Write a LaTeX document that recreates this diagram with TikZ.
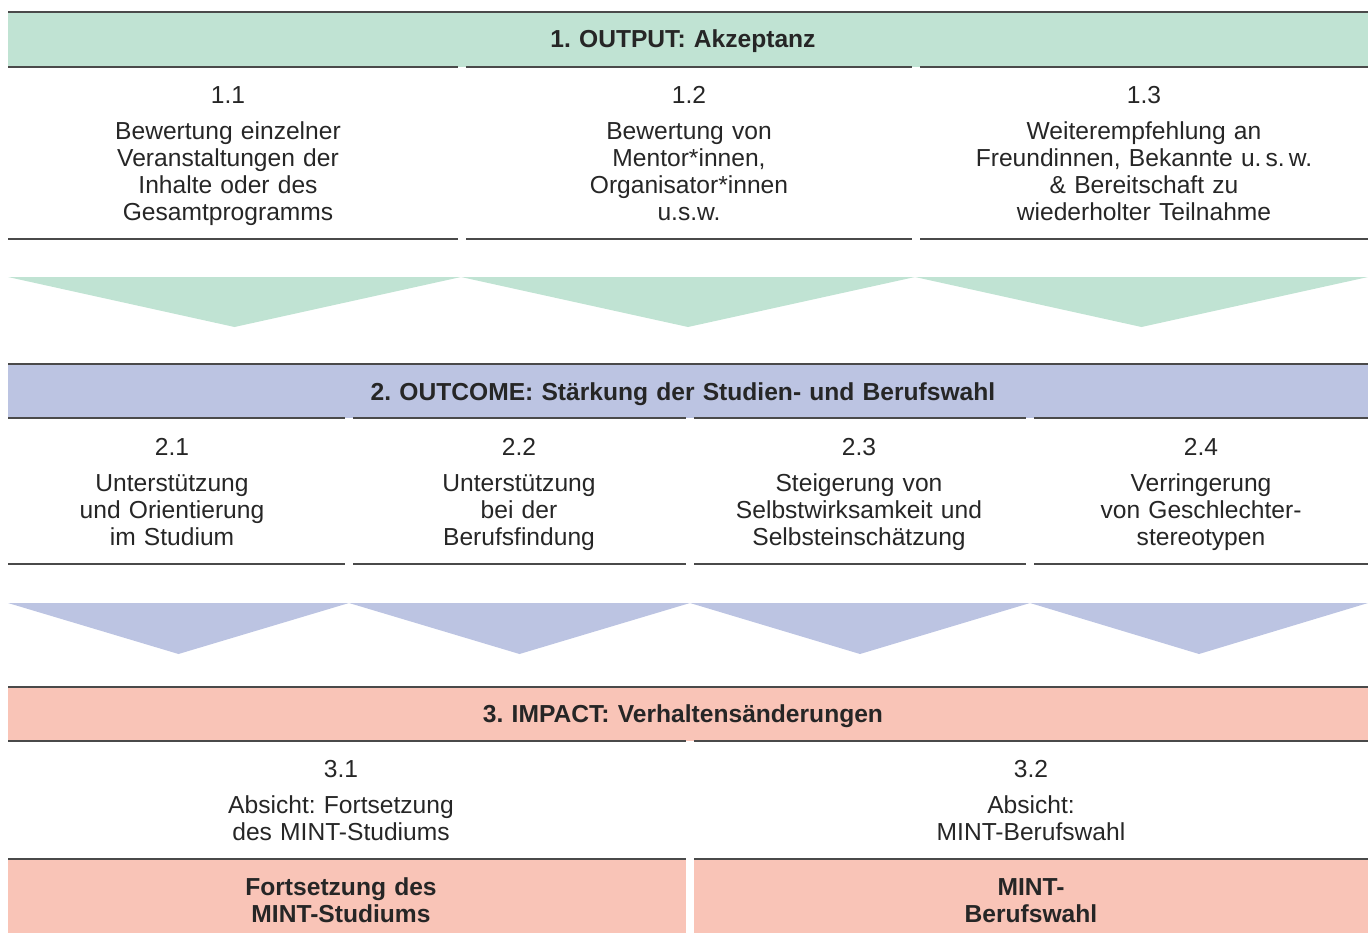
\documentclass[tikz,border=0pt]{standalone}
\usepackage{fontspec}
\setmainfont{Liberation Sans}
\usetikzlibrary{positioning}
\definecolor{outputgreen}{HTML}{C0E3D3}
\definecolor{outcomeblue}{HTML}{BCC4E2}
\definecolor{impactred}{HTML}{F9C4B7}
\definecolor{rulegray}{HTML}{4A4A4A}

\begin{document}
\begin{tikzpicture}
			[x=0.02cm, y=-0.02cm,
			every node/.style={font=\fontsize{14}{15.5}\selectfont\frenchspacing, text=black!85, inner sep=0pt},
			head/.style={font=\fontsize{14}{15.5}\selectfont\bfseries\frenchspacing, anchor=base, align=center, text width=14cm},
			num/.style={anchor=base},
			desc/.style={anchor=base, align=center, text width=8cm},
			rule/.style={draw=rulegray, line width=0.7pt}]
			\useasboundingbox (0,0) rectangle (1370,933);

			% bands %
			\fill[outputgreen] (8,12) rectangle (1368,67);
			\fill[outcomeblue] (8,364) rectangle (1368,418);
			\fill[impactred] (8,687) rectangle (1368,741);
			\fill[impactred] (8,859) rectangle (686,933);
			\fill[impactred] (694,859) rectangle (1368,933);

			% arrows %
			\fill[outputgreen] (8,277) -- (461,277) -- (234.5,327) -- cycle;
			\fill[outputgreen] (461,277) -- (915,277) -- (688,327) -- cycle;
			\fill[outputgreen] (915,277) -- (1368,277) -- (1141.5,327) -- cycle;
			\fill[outcomeblue] (8,603) -- (349,603) -- (178.5,654) -- cycle;
			\fill[outcomeblue] (349,603) -- (690,603) -- (519.5,654) -- cycle;
			\fill[outcomeblue] (690,603) -- (1030,603) -- (860,654) -- cycle;
			\fill[outcomeblue] (1030,603) -- (1368,603) -- (1199,654) -- cycle;

			% rules %
			\draw[rule] (8,12) -- (1368,12);
			\draw[rule] (8,67) -- (458,67) (466,67) -- (912,67) (920,67) -- (1368,67);
			\draw[rule] (8,239) -- (458,239) (466,239) -- (912,239) (920,239) -- (1368,239);
			\draw[rule] (8,364) -- (1368,364);
			\draw[rule] (8,418) -- (345,418) (353,418) -- (686,418) (694,418) -- (1026,418) (1034,418) -- (1368,418);
			\draw[rule] (8,564) -- (345,564) (353,564) -- (686,564) (694,564) -- (1026,564) (1034,564) -- (1368,564);
			\draw[rule] (8,687) -- (1368,687);
			\draw[rule] (8,741) -- (686,741) (694,741) -- (1368,741);
			\draw[rule] (8,859) -- (686,859) (694,859) -- (1368,859);

			% output %
			\node[head] (output) at (683,48) {1. OUTPUT: Akzeptanz};
			\node[num] (o1) at (228,103.5) {1.1};
			\node[desc] (o1t) at (228,139) {Bewertung einzelner\\Veranstaltungen der\\Inhalte oder des\\Gesamtprogramms};
			\node[num] (o2) at (689,103.5) {1.2};
			\node[desc] (o2t) at (689,139) {Bewertung von\\Mentor*innen,\\Organisator*innen\\u.s.w.};
			\node[num] (o3) at (1144,103.5) {1.3};
			\node[desc] (o3t) at (1144,139) {Weiterempfehlung an\\Freundinnen, Bekannte u.\,s.\,w.\\\&~Bereitschaft zu\\wiederholter Teilnahme};

			% outcome %
			\node[head] (outcome) at (683,400) {2. OUTCOME: Stärkung der Studien- und Berufswahl};
			\node[num] (c1) at (172,455.5) {2.1};
			\node[desc] (c1t) at (172,491) {Unterstützung\\und Orientierung\\im Studium};
			\node[num] (c2) at (519,455.5) {2.2};
			\node[desc] (c2t) at (519,491) {Unterstützung\\bei der\\Berufsfindung};
			\node[num] (c3) at (859,455.5) {2.3};
			\node[desc] (c3t) at (859,491) {Steigerung von\\Selbstwirksamkeit und\\Selbsteinschätzung};
			\node[num] (c4) at (1201,455.5) {2.4};
			\node[desc] (c4t) at (1201,491) {Verringerung\\von Geschlechter-\\stereotypen};

			% impact %
			\node[head] (impact) at (683,722) {3. IMPACT: Verhaltensänderungen};
			\node[num] (i1) at (341,777.5) {3.1};
			\node[desc] (i1t) at (341,813) {Absicht: Fortsetzung\\des MINT-Studiums};
			\node[num] (i2) at (1031,777.5) {3.2};
			\node[desc] (i2t) at (1031,813) {Absicht:\\MINT-Berufswahl};
			\node[head] (study) at (341,895) {Fortsetzung des\\MINT-Studiums};
			\node[head] (career) at (1031,895) {MINT-\\Berufswahl};
			\end{tikzpicture}
\end{document}
